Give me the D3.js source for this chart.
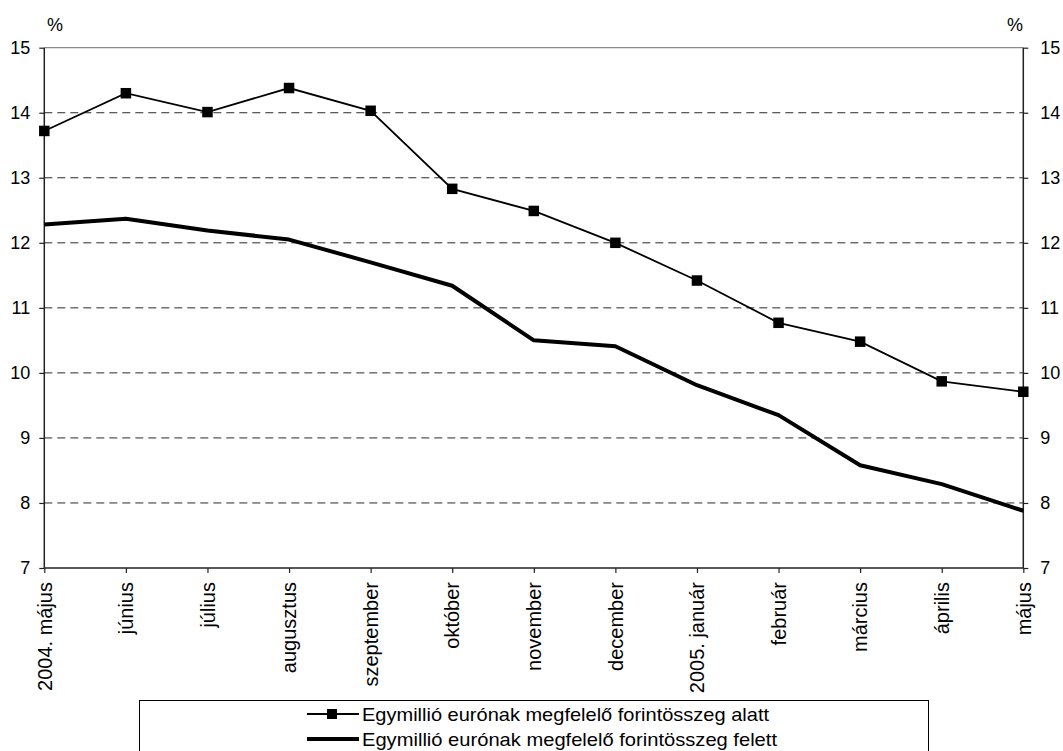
<!DOCTYPE html>
<html><head><meta charset="utf-8">
<script src="https://cdn.jsdelivr.net/npm/d3@7"></script>
<style>
html,body{margin:0;padding:0;background:#fff;}
svg{display:block;font-family:"Liberation Sans",Arial,sans-serif;}
</style></head>
<body>
<svg id="chart" width="1063" height="751"></svg>
<script>
const categories = ["2004. május","június","július","augusztus","szeptember","október","november","december","2005. január","február","március","április","május"];
const seriesAlatt = [13.72,14.30,14.01,14.38,14.03,12.83,12.49,12.00,11.42,10.77,10.48,9.87,9.71];
const seriesFelett = [12.28,12.37,12.19,12.05,11.70,11.34,10.50,10.41,9.81,9.35,8.58,8.29,7.88];
const yTicks = [7,8,9,10,11,12,13,14,15];
const legendLabels = ["Egymillió eurónak megfelelő forintösszeg alatt","Egymillió eurónak megfelelő forintösszeg felett"];
const unitLabel = "%";

const svg = d3.select("#chart");
const L = 44.3, R = 1023.3, T = 47.7, B = 568;
const x = d3.scalePoint().domain(categories).range([L, R]);
const y = d3.scaleLinear().domain([7, 15]).range([B, T]);

// gridlines
const grid = svg.append("g");
yTicks.filter(v => v > 7 && v < 15).forEach(v => {
  grid.append("line").attr("x1", L).attr("x2", R).attr("y1", y(v)).attr("y2", y(v))
    .attr("stroke", "#2a2a2a").attr("stroke-width", 1).attr("stroke-dasharray", "8,5");
});
grid.append("line").attr("x1", L).attr("x2", R).attr("y1", y(15)).attr("y2", y(15))
  .attr("stroke", "#8a8a8a").attr("stroke-width", 1.2);

// axes
const fontTick = "18px";
const leftAxis = svg.append("g").attr("transform", `translate(${L},0)`)
  .call(d3.axisLeft(y).tickValues(yTicks).tickSize(5).tickPadding(9).tickFormat(d3.format("d")));
const rightAxis = svg.append("g").attr("transform", `translate(${R},0)`)
  .call(d3.axisRight(y).tickValues(yTicks).tickSize(5).tickPadding(12).tickFormat(d3.format("d")));
const bottomAxis = svg.append("g").attr("transform", `translate(0,${B})`)
  .call(d3.axisBottom(x).tickSize(5).tickFormat(""));
[leftAxis, rightAxis, bottomAxis].forEach(g => {
  g.select(".domain").attr("stroke", "#222").attr("stroke-width", 1.5);
  g.selectAll(".tick line").attr("stroke", "#222").attr("stroke-width", 1.2);
  g.selectAll("text").attr("fill", "#000").style("font-size", fontTick)
    .style("font-family", '"Liberation Sans",Arial,sans-serif');
});
leftAxis.select(".domain").attr("d", `M0,${B}V${T}`);
rightAxis.select(".domain").attr("d", `M0,${B}V${T}`);
bottomAxis.select(".domain").attr("d", `M${L},0H${R}`);

// category labels rotated
svg.append("g").selectAll("text").data(categories).join("text")
  .attr("transform", d => `translate(${x(d)},582) rotate(-90)`)
  .attr("text-anchor", "end").attr("dy", "0.36em")
  .style("font-size", "20px").attr("fill", "#000").text(d => d);

// unit labels
svg.append("text").attr("x", 55).attr("y", 31).attr("text-anchor", "middle")
  .style("font-size", "18px").text(unitLabel);
svg.append("text").attr("x", 1015).attr("y", 31).attr("text-anchor", "middle")
  .style("font-size", "18px").text(unitLabel);

// lines
const line = d3.line().x((d, i) => x(categories[i])).y(d => y(d));
svg.append("path").datum(seriesFelett).attr("d", line)
  .attr("fill", "none").attr("stroke", "#000").attr("stroke-width", 4).attr("stroke-linejoin", "round");
svg.append("path").datum(seriesAlatt).attr("d", line)
  .attr("fill", "none").attr("stroke", "#000").attr("stroke-width", 1.8);
const sq = 10.5;
svg.append("g").selectAll("rect").data(seriesAlatt).join("rect")
  .attr("x", (d, i) => x(categories[i]) - sq / 2).attr("y", d => y(d) - sq / 2)
  .attr("width", sq).attr("height", sq).attr("fill", "#000");

// legend
const lg = svg.append("g");
lg.append("rect").attr("x", 139.5).attr("y", 700.5).attr("width", 789).attr("height", 60)
  .attr("fill", "#fff").attr("stroke", "#000").attr("stroke-width", 1);
const rowY = [714, 739];
lg.append("line").attr("x1", 307).attr("x2", 359).attr("y1", rowY[0]).attr("y2", rowY[0])
  .attr("stroke", "#000").attr("stroke-width", 1.8);
lg.append("rect").attr("x", 332 - 5).attr("y", rowY[0] - 5).attr("width", 10).attr("height", 10).attr("fill", "#000");
lg.append("line").attr("x1", 307).attr("x2", 359).attr("y1", rowY[1]).attr("y2", rowY[1])
  .attr("stroke", "#000").attr("stroke-width", 4);
const lens = [407, 415];
legendLabels.forEach((t, i) => {
  lg.append("text").attr("x", 362).attr("y", rowY[i]).attr("dy", "0.36em")
    .style("font-size", "18.5px").attr("textLength", lens[i]).attr("lengthAdjust", "spacingAndGlyphs")
    .text(t);
});
</script>
</body></html>
